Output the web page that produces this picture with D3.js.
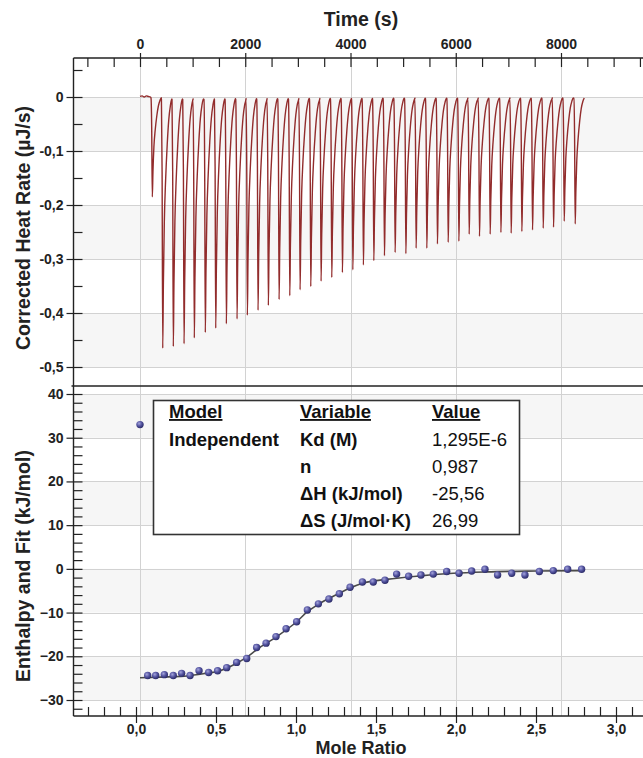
<!DOCTYPE html>
<html>
<head>
<meta charset="utf-8">
<script src="https://cdnjs.cloudflare.com/ajax/libs/d3/7.8.5/d3.min.js"></script>
<style>
  body { margin: 0; background: #fff; }
  svg { display: block; font-family: "Liberation Sans", Arial, sans-serif; }
  .tick-label { font-size: 14px; font-weight: bold; fill: #222; }
  .axis-title { font-size: 19.5px; font-weight: bold; fill: #222; }
</style>
</head>
<body>
<div id="chart"></div>
<script>
// ---- Data ----

// Raw thermogram: time (s) of each injection peak minimum and its depth (uJ/s)
var peakTimes = [234, 432, 633, 837, 1032, 1241, 1439, 1641, 1844, 2040, 2243, 2439, 2643, 2846,
  3042, 3245, 3441, 3644, 3846, 4044, 4245, 4443, 4645, 4848, 5052, 5247, 5450, 5652, 5856,
  6059, 6255, 6451, 6654, 6858, 7053, 7256, 7459, 7662, 7858, 8061, 8270];
var peakMins = [-0.185, -0.465, -0.462, -0.457, -0.446, -0.436, -0.428, -0.420, -0.411, -0.404,
  -0.395, -0.386, -0.375, -0.368, -0.357, -0.351, -0.341, -0.334, -0.325, -0.320, -0.311,
  -0.303, -0.294, -0.288, -0.290, -0.280, -0.280, -0.272, -0.269, -0.267, -0.254, -0.258,
  -0.254, -0.251, -0.252, -0.249, -0.246, -0.243, -0.241, -0.230, -0.235];
// Pre-injection baseline (time, heat rate)
var baselineTimes = [0, 40, 80, 120, 160, 200];
var baselineHeat = [0.001, 0.002, 0.0, 0.002, 0.001, 0.0];
// Shape of one injection peak: seconds from minimum, fraction of depth
var peakShapeDt = [-25, -12, 0, 12, 30, 55, 85, 115, 145, 172];
var peakShapeFrac = [0.01, 0.3, 1.0, 0.75, 0.5, 0.33, 0.19, 0.09, 0.035, 0.008];

// Integrated heats
var moleRatio = [0.025, 0.073, 0.123, 0.177, 0.233, 0.285, 0.338, 0.394, 0.454, 0.510, 0.567,
  0.629, 0.692, 0.754, 0.813, 0.875, 0.938, 1.004, 1.071, 1.140, 1.206, 1.271, 1.338, 1.415,
  1.483, 1.556, 1.629, 1.704, 1.781, 1.858, 1.942, 2.019, 2.098, 2.181, 2.260, 2.348, 2.431,
  2.521, 2.608, 2.698, 2.785];
var enthalpy = [33.0, -24.4, -24.4, -24.2, -24.4, -23.9, -24.4, -23.3, -23.7, -23.3, -22.6,
  -21.4, -20.5, -18.0, -17.0, -15.5, -13.7, -12.1, -9.4, -8.0, -6.9, -5.7, -4.2, -3.0,
  -3.0, -2.6, -1.2, -1.7, -1.4, -1.2, -0.6, -1.0, -0.5, -0.1, -1.4, -1.0, -1.4,
  -0.6, -0.4, -0.1, -0.1];

// Fitted isotherm
var fitRatio = [0.025, 0.2, 0.317, 0.42, 0.525, 0.629, 0.692, 0.754, 0.875, 1.004, 1.071, 1.14,
  1.271, 1.338, 1.415, 1.567, 1.775, 1.983, 2.19, 2.5, 2.785];
var fitEnthalpy = [-24.9, -24.7, -24.5, -24.0, -23.3, -21.6, -20.2, -18.5, -15.6, -12.1, -9.8,
  -8.1, -5.6, -4.4, -3.3, -2.4, -1.6, -1.0, -0.7, -0.5, -0.4];

// Tick labels
var timeTicks = [0, 2000, 4000, 6000, 8000];
var heatTicks = [0, -0.1, -0.2, -0.3, -0.4, -0.5];
var enthTicks = [40, 30, 20, 10, 0, -10, -20, -30];
var ratioTicks = [0, 0.5, 1, 1.5, 2, 2.5, 3];

// Fit results table
var tableHeader = ["Model", "Variable", "Value"];
var tableModel = ["Independent", "", "", ""];
var tableVariable = ["Kd (M)", "n", "\u0394H (kJ/mol)", "\u0394S (J/mol\u00b7K)"];
var tableValue = ["1,295E-6", "0,987", "-25,56", "26,99"];

// ---- Layout ----
var svgWidth = 643, svgHeight = 758;
var plotLeft = 73.5, plotRight = 644, plotTop = 58, plotSep = 386, plotBottom = 716;

var svg = d3.select("#chart").append("svg")
  .attr("width", svgWidth)
  .attr("height", svgHeight);

var locale = d3.formatLocale({ decimal: ",", thousands: "", grouping: [3], currency: ["", ""], minus: "-" });

// Scales
var xTime = d3.scaleLinear().domain([0, 8000]).range([140, 561]);
var yHeat = d3.scaleLinear().domain([0, -0.5]).range([97, 367]);
var xRatio = d3.scaleLinear().domain([0, 3]).range([136, 616]);
var yEnth = d3.scaleLinear().domain([40, -30]).range([394, 700]);

// Background bands
var bands = svg.append("g");
[[0, -0.1], [-0.2, -0.3], [-0.4, -0.5]].forEach(function(b) {
  bands.append("rect")
    .attr("x", plotLeft).attr("width", plotRight - plotLeft)
    .attr("y", yHeat(b[0])).attr("height", yHeat(b[1]) - yHeat(b[0]))
    .attr("fill", "#f6f6f6");
});
[[40, 30], [20, 10], [0, -10], [-20, -30]].forEach(function(b) {
  bands.append("rect")
    .attr("x", plotLeft).attr("width", plotRight - plotLeft)
    .attr("y", yEnth(b[0])).attr("height", yEnth(b[1]) - yEnth(b[0]))
    .attr("fill", "#f6f6f6");
});

// Gridlines
var grid = svg.append("g").attr("stroke", "#d2d2d2").attr("stroke-width", 1);
timeTicks.forEach(function(t) {
  grid.append("line")
    .attr("x1", Math.round(xTime(t)) + 0.5).attr("x2", Math.round(xTime(t)) + 0.5)
    .attr("y1", plotTop).attr("y2", plotBottom);
});
heatTicks.forEach(function(v) {
  grid.append("line")
    .attr("x1", plotLeft).attr("x2", plotRight)
    .attr("y1", Math.round(yHeat(v)) + 0.5).attr("y2", Math.round(yHeat(v)) + 0.5);
});
enthTicks.forEach(function(v) {
  grid.append("line")
    .attr("x1", plotLeft).attr("x2", plotRight)
    .attr("y1", Math.round(yEnth(v)) + 0.5).attr("y2", Math.round(yEnth(v)) + 0.5);
});

// Thermogram trace
var trace = [];
baselineTimes.forEach(function(t, i) { trace.push([t, baselineHeat[i]]); });
peakTimes.forEach(function(t, i) {
  peakShapeDt.forEach(function(dt, j) {
    trace.push([t + dt, peakMins[i] * peakShapeFrac[j]]);
  });
});

var traceLine = d3.line()
  .x(function(d) { return xTime(d[0]); })
  .y(function(d) { return yHeat(d[1]); })
  .curve(d3.curveMonotoneX);

svg.append("path")
  .datum(trace)
  .attr("d", traceLine)
  .attr("fill", "none")
  .attr("stroke", "#922c2c")
  .attr("stroke-width", 1.4)
  .attr("stroke-linejoin", "round");

// Fit curve
var fitLine = d3.line()
  .x(function(d) { return xRatio(d[0]); })
  .y(function(d) { return yEnth(d[1]); })
  .curve(d3.curveMonotoneX);

svg.append("path")
  .datum(fitRatio.map(function(r, i) { return [r, fitEnthalpy[i]]; }))
  .attr("d", fitLine)
  .attr("fill", "none")
  .attr("stroke", "#4a4a4a")
  .attr("stroke-width", 1.6);

// Dots
var defs = svg.append("defs");
var grad = defs.append("radialGradient").attr("id", "dotGrad")
  .attr("cx", "38%").attr("cy", "35%").attr("r", "65%");
grad.append("stop").attr("offset", "0%").attr("stop-color", "#a4a4dc");
grad.append("stop").attr("offset", "55%").attr("stop-color", "#52529e");
grad.append("stop").attr("offset", "100%").attr("stop-color", "#2c2c68");

svg.append("g").selectAll("circle")
  .data(moleRatio.map(function(r, i) { return [r, enthalpy[i]]; }))
  .enter()
  .append("circle")
  .attr("cx", function(d) { return xRatio(d[0]); })
  .attr("cy", function(d) { return yEnth(d[1]); })
  .attr("r", 3.7)
  .attr("fill", "url(#dotGrad)");

// Results table
var box = svg.append("g");
box.append("rect")
  .attr("x", 153.5).attr("y", 400.5).attr("width", 366).attr("height", 134)
  .attr("fill", "#fff").attr("stroke", "#333").attr("stroke-width", 1.6);

var colX = [169, 300, 432];
tableHeader.forEach(function(h, i) {
  box.append("text")
    .attr("x", colX[i]).attr("y", 418)
    .style("font-size", "18.5px").style("font-weight", "bold")
    .style("text-decoration", "underline")
    .attr("fill", "#111")
    .text(h);
});
tableVariable.forEach(function(v, i) {
  var y = 446 + i * 27;
  box.append("text").attr("x", colX[0]).attr("y", y)
    .style("font-size", "18.5px").style("font-weight", "bold").attr("fill", "#111")
    .text(tableModel[i]);
  box.append("text").attr("x", colX[1]).attr("y", y)
    .style("font-size", "18.5px").style("font-weight", "bold").attr("fill", "#111")
    .text(v);
  box.append("text").attr("x", colX[2]).attr("y", y)
    .style("font-size", "18.5px").attr("fill", "#111")
    .text(tableValue[i]);
});

// ---- Axes ----
var axisColor = "#222";

function styleAxis(g) {
  g.select(".domain").remove();
  g.selectAll(".tick line").attr("stroke", axisColor).attr("stroke-width", 1.2);
  g.selectAll(".tick text").attr("class", "tick-label");
}

// Top time axis: minor ticks inward, major outward
svg.append("g")
  .attr("transform", "translate(0," + plotTop + ")")
  .call(d3.axisBottom(xTime).tickValues(d3.range(-1000, 9600, 500)).tickSize(9).tickFormat(""))
  .call(styleAxis);
svg.append("g")
  .attr("transform", "translate(0," + plotTop + ")")
  .call(d3.axisTop(xTime).tickValues(timeTicks).tickSize(5).tickPadding(4).tickFormat(d3.format("d")))
  .call(styleAxis);

// Left heat axis
var heatFmt = function(d) { return d === 0 ? "0" : locale.format(".1f")(d); };
svg.append("g")
  .attr("transform", "translate(" + plotLeft + ",0)")
  .call(d3.axisRight(yHeat).tickValues(d3.range(0.05, -0.51, -0.05)).tickSize(9).tickFormat(""))
  .call(styleAxis);
svg.append("g")
  .attr("transform", "translate(" + plotLeft + ",0)")
  .call(d3.axisLeft(yHeat).tickValues(heatTicks).tickSize(7).tickPadding(3).tickFormat(heatFmt))
  .call(styleAxis);

// Left enthalpy axis
svg.append("g")
  .attr("transform", "translate(" + plotLeft + ",0)")
  .call(d3.axisRight(yEnth).tickValues(d3.range(40, -33, -2)).tickSize(9).tickFormat(""))
  .call(styleAxis);
svg.append("g")
  .attr("transform", "translate(" + plotLeft + ",0)")
  .call(d3.axisLeft(yEnth).tickValues(enthTicks).tickSize(7).tickPadding(3).tickFormat(d3.format("d")))
  .call(styleAxis);

// Bottom mole ratio axis
svg.append("g")
  .attr("transform", "translate(0," + plotBottom + ")")
  .call(d3.axisTop(xRatio).tickValues(d3.range(-0.3, 3.25, 0.1)).tickSize(9).tickFormat(""))
  .call(styleAxis);
svg.append("g")
  .attr("transform", "translate(0," + plotBottom + ")")
  .call(d3.axisBottom(xRatio).tickValues(ratioTicks).tickSize(7).tickPadding(1).tickFormat(locale.format(".1f")))
  .call(styleAxis);

// Frame lines
var frame = svg.append("g").attr("stroke", "#222").attr("stroke-width", 1.4);
frame.append("line").attr("x1", plotLeft).attr("x2", plotLeft).attr("y1", plotTop).attr("y2", plotBottom);
frame.append("line").attr("x1", plotLeft).attr("x2", plotRight).attr("y1", plotTop).attr("y2", plotTop);
frame.append("line").attr("x1", plotLeft - 2).attr("x2", plotRight).attr("y1", plotSep).attr("y2", plotSep);
frame.append("line").attr("x1", plotLeft).attr("x2", plotRight).attr("y1", plotBottom).attr("y2", plotBottom);

// Axis titles
svg.append("text").attr("class", "axis-title")
  .attr("x", 361).attr("y", 26).attr("text-anchor", "middle")
  .text("Time (s)");
svg.append("text").attr("class", "axis-title")
  .attr("x", 361).attr("y", 754).attr("text-anchor", "middle")
  .style("font-size", "18px")
  .text("Mole Ratio");
svg.append("text").attr("class", "axis-title")
  .attr("transform", "translate(30,228) rotate(-90)")
  .attr("text-anchor", "middle")
  .text("Corrected Heat Rate (\u00b5J/s)");
svg.append("text").attr("class", "axis-title")
  .attr("transform", "translate(30,566) rotate(-90)")
  .attr("text-anchor", "middle")
  .text("Enthalpy and Fit (kJ/mol)");
</script>
</body>
</html>
